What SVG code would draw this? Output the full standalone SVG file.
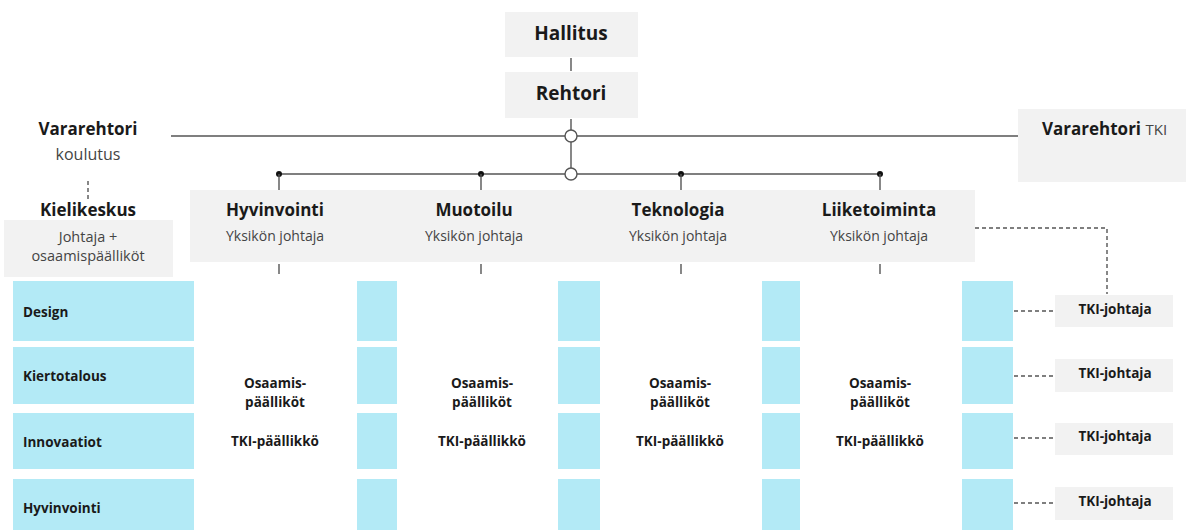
<svg xmlns="http://www.w3.org/2000/svg" width="1186" height="530" viewBox="0 0 1186 530">
<style>
.box{fill:#f2f2f2}
.blue{fill:#b3eaf6}
.t{font-family:"Open Sans","Liberation Sans",sans-serif;fill:#1a1a1a}
.b{font-weight:bold}
.s{fill:#444;font-weight:normal}
.ln{stroke:#555;stroke-width:1.4;fill:none}
.dash{stroke:#555;stroke-width:1.4;fill:none;stroke-dasharray:4 3}
.hub{fill:#fff;stroke:#555;stroke-width:1.4}
.dot{fill:#111}
</style>
<rect width="1186" height="530" fill="#fff"/>
<g id="connectors">
<line class="ln" x1="571" y1="58" x2="571" y2="71"/>
<line class="ln" x1="571" y1="119" x2="571" y2="168"/>
<line class="ln" x1="171" y1="136" x2="1018" y2="136"/>
<line class="ln" x1="279" y1="174" x2="880" y2="174"/>
<circle class="hub" cx="571" cy="136" r="6"/>
<circle class="hub" cx="571" cy="174" r="6"/>
<circle class="dot" cx="279" cy="174" r="3"/>
<circle class="dot" cx="481" cy="174" r="3"/>
<circle class="dot" cx="681" cy="174" r="3"/>
<circle class="dot" cx="880" cy="174" r="3"/>
<line class="ln" x1="279" y1="174" x2="279" y2="191"/>
<line class="ln" x1="481" y1="174" x2="481" y2="191"/>
<line class="ln" x1="681" y1="174" x2="681" y2="191"/>
<line class="ln" x1="880" y1="174" x2="880" y2="191"/>
<line class="ln" x1="279" y1="264" x2="279" y2="274"/>
<line class="ln" x1="481" y1="264" x2="481" y2="274"/>
<line class="ln" x1="681" y1="264" x2="681" y2="274"/>
<line class="ln" x1="880" y1="264" x2="880" y2="274"/>
<line class="dash" x1="88" y1="181" x2="88" y2="200"/>
<polyline class="dash" points="968,228 1107,228 1107,294"/>
<line class="dash" x1="1014" y1="311" x2="1054" y2="311"/>
<line class="dash" x1="1014" y1="376" x2="1054" y2="376"/>
<line class="dash" x1="1014" y1="438" x2="1054" y2="438"/>
<line class="dash" x1="1014" y1="503" x2="1054" y2="503"/>
</g>
<g id="hallitus">
<rect class="box" x="505" y="12" width="133" height="45"/>
<text class="t b" x="571" y="40" font-size="19" text-anchor="middle">Hallitus</text>
</g>
<g id="rehtori">
<rect class="box" x="505" y="72" width="133" height="46"/>
<text class="t b" x="571" y="100" font-size="19" text-anchor="middle">Rehtori</text>
</g>
<g id="vararehtori-koulutus">
<text class="t b" x="88" y="135" font-size="17" text-anchor="middle">Vararehtori</text>
<text class="t s" x="88" y="160" font-size="16" text-anchor="middle">koulutus</text>
</g>
<g id="vararehtori-tki">
<rect class="box" x="1018" y="109" width="168" height="73"/>
<text class="t b" x="1042" y="135" font-size="17">Vararehtori <tspan class="s" font-size="15">TKI</tspan></text>
</g>
<g id="kielikeskus">
<text class="t b" x="88" y="216" font-size="17" text-anchor="middle">Kielikeskus</text>
<rect class="box" x="4" y="220" width="169" height="57"/>
<text class="t s" x="88" y="242" font-size="14.5" text-anchor="middle">Johtaja +</text>
<text class="t s" x="88" y="261" font-size="14.5" text-anchor="middle">osaamispäälliköt</text>
</g>
<g id="unit-hyvinvointi">
<rect class="box" x="190" y="190" width="196" height="72"/>
<text class="t b" x="275" y="216" font-size="17" text-anchor="middle">Hyvinvointi</text>
<text class="t s" x="275" y="241" font-size="14" text-anchor="middle">Yksikön johtaja</text>
</g>
<g id="unit-muotoilu">
<rect class="box" x="386" y="190" width="196" height="72"/>
<text class="t b" x="474" y="216" font-size="17" text-anchor="middle">Muotoilu</text>
<text class="t s" x="474" y="241" font-size="14" text-anchor="middle">Yksikön johtaja</text>
</g>
<g id="unit-teknologia">
<rect class="box" x="582" y="190" width="196" height="72"/>
<text class="t b" x="678" y="216" font-size="17" text-anchor="middle">Teknologia</text>
<text class="t s" x="678" y="241" font-size="14" text-anchor="middle">Yksikön johtaja</text>
</g>
<g id="unit-liiketoiminta">
<rect class="box" x="778" y="190" width="197" height="72"/>
<text class="t b" x="879" y="216" font-size="17" text-anchor="middle">Liiketoiminta</text>
<text class="t s" x="879" y="241" font-size="14" text-anchor="middle">Yksikön johtaja</text>
</g>
<g id="row-design">
<rect class="blue" x="13" y="281" width="181" height="60"/>
<text class="t b" x="23" y="317" font-size="13.5">Design</text>
</g>
<g id="row-kiertotalous">
<rect class="blue" x="13" y="347" width="181" height="57"/>
<text class="t b" x="23" y="381" font-size="13.5">Kiertotalous</text>
</g>
<g id="row-innovaatiot">
<rect class="blue" x="13" y="413" width="181" height="56"/>
<text class="t b" x="23" y="447" font-size="13.5">Innovaatiot</text>
</g>
<g id="row-hyvinvointi">
<rect class="blue" x="13" y="479" width="181" height="51"/>
<text class="t b" x="23" y="513" font-size="13.5">Hyvinvointi</text>
</g>
<g id="col-1">
<rect class="blue" x="357" y="281" width="40" height="60"/>
<rect class="blue" x="357" y="347" width="40" height="57"/>
<rect class="blue" x="357" y="413" width="40" height="56"/>
<rect class="blue" x="357" y="479" width="40" height="51"/>
</g>
<g id="col-2">
<rect class="blue" x="558" y="281" width="42" height="60"/>
<rect class="blue" x="558" y="347" width="42" height="57"/>
<rect class="blue" x="558" y="413" width="42" height="56"/>
<rect class="blue" x="558" y="479" width="42" height="51"/>
</g>
<g id="col-3">
<rect class="blue" x="762" y="281" width="38" height="60"/>
<rect class="blue" x="762" y="347" width="38" height="57"/>
<rect class="blue" x="762" y="413" width="38" height="56"/>
<rect class="blue" x="762" y="479" width="38" height="51"/>
</g>
<g id="col-4">
<rect class="blue" x="962" y="281" width="51" height="60"/>
<rect class="blue" x="962" y="347" width="51" height="57"/>
<rect class="blue" x="962" y="413" width="51" height="56"/>
<rect class="blue" x="962" y="479" width="51" height="51"/>
</g>
<g id="staff-hyvinvointi">
<text class="t b" x="275" y="388" font-size="13.5" text-anchor="middle">Osaamis-</text>
<text class="t b" x="275" y="407" font-size="13.5" text-anchor="middle">päälliköt</text>
<text class="t b" x="275" y="446" font-size="13.5" text-anchor="middle">TKI-päällikkö</text>
</g>
<g id="staff-muotoilu">
<text class="t b" x="482" y="388" font-size="13.5" text-anchor="middle">Osaamis-</text>
<text class="t b" x="482" y="407" font-size="13.5" text-anchor="middle">päälliköt</text>
<text class="t b" x="482" y="446" font-size="13.5" text-anchor="middle">TKI-päällikkö</text>
</g>
<g id="staff-teknologia">
<text class="t b" x="680" y="388" font-size="13.5" text-anchor="middle">Osaamis-</text>
<text class="t b" x="680" y="407" font-size="13.5" text-anchor="middle">päälliköt</text>
<text class="t b" x="680" y="446" font-size="13.5" text-anchor="middle">TKI-päällikkö</text>
</g>
<g id="staff-liiketoiminta">
<text class="t b" x="880" y="388" font-size="13.5" text-anchor="middle">Osaamis-</text>
<text class="t b" x="880" y="407" font-size="13.5" text-anchor="middle">päälliköt</text>
<text class="t b" x="880" y="446" font-size="13.5" text-anchor="middle">TKI-päällikkö</text>
</g>
<g id="tki-johtaja-1">
<rect class="box" x="1055" y="295" width="118" height="32"/>
<text class="t b" x="1115" y="314" font-size="13.5" text-anchor="middle">TKI-johtaja</text>
</g>
<g id="tki-johtaja-2">
<rect class="box" x="1055" y="359" width="118" height="33"/>
<text class="t b" x="1115" y="378" font-size="13.5" text-anchor="middle">TKI-johtaja</text>
</g>
<g id="tki-johtaja-3">
<rect class="box" x="1055" y="423" width="118" height="32"/>
<text class="t b" x="1115" y="441" font-size="13.5" text-anchor="middle">TKI-johtaja</text>
</g>
<g id="tki-johtaja-4">
<rect class="box" x="1055" y="487" width="118" height="33"/>
<text class="t b" x="1115" y="506" font-size="13.5" text-anchor="middle">TKI-johtaja</text>
</g>
</svg>
